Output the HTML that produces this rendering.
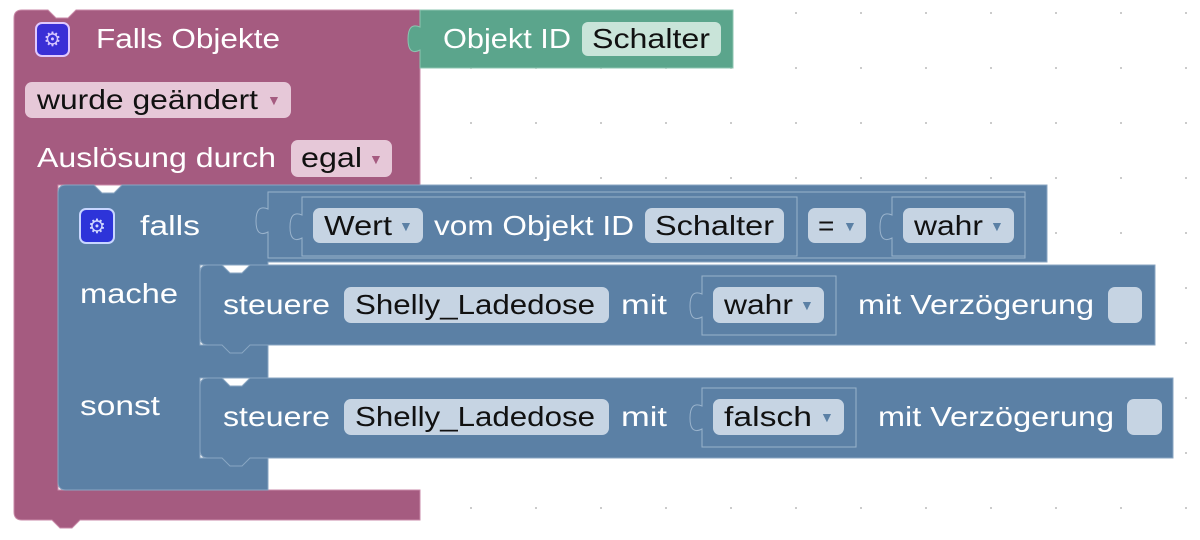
<!DOCTYPE html>
<html><head><meta charset="utf-8"><style>
html,body{margin:0;padding:0;background:#fff;width:1200px;height:540px;overflow:hidden}
svg{display:block}
text{font-family:"Liberation Sans",sans-serif;font-size:28px}
.w{fill:#fff}.k{fill:#111}.t{fill:#5b80a5;font-size:14px}.tp{fill:#a55b80;font-size:14px}
</style></head><body>
<svg width="1200" height="540" viewBox="0 0 1200 540" xmlns="http://www.w3.org/2000/svg">
<defs><pattern id="g" width="65" height="55" patternUnits="userSpaceOnUse" x="15" y="12"><circle cx="1" cy="1" r="1" fill="#bbb"/></pattern></defs>
<rect width="1200" height="540" fill="url(#g)"/>
<!-- pink event block -->
<path d="M22 10 H48 l8 8 h12 l8 -8 H420 V185 H58 V490 H420 V520 H80 l-8 8 h-12 l-8 -8 H22 q-8 0 -8 -8 V18 q0 -8 8 -8Z" fill="#a55b80" stroke="#c98aa8" stroke-width="1"/>
<!-- green block -->
<path d="M420 10 H733 V68 H420 V50 q-12 6 -12 -11 q0 -17 12 -12Z" fill="#5ba58c" stroke="#8cc5b0" stroke-width="1"/>
<rect x="582" y="22" width="139" height="34" rx="6" fill="#c9e4d9"/>
<text x="443" y="48" class="w" textLength="128" lengthAdjust="spacingAndGlyphs">Objekt ID</text><text x="592" y="48" class="k" textLength="118" lengthAdjust="spacingAndGlyphs">Schalter</text>
<!-- pink contents -->
<rect x="36" y="23" width="33" height="33" rx="6" fill="#3a2fd6" stroke="#e0c9ff" stroke-width="2"/>
<text x="52.5" y="46" text-anchor="middle" style="font-size:20px" fill="#d8c8ff">⚙</text>
<text x="96" y="48" class="w" textLength="184" lengthAdjust="spacingAndGlyphs">Falls Objekte</text>
<rect x="25" y="82" width="266" height="36" rx="7" fill="#e6c8d8"/>
<text x="37" y="109" class="k" textLength="221" lengthAdjust="spacingAndGlyphs">wurde geändert</text><text x="267" y="105" class="tp">▼</text>
<text x="37" y="167" class="w" textLength="239" lengthAdjust="spacingAndGlyphs">Auslösung durch</text>
<rect x="291" y="140" width="101" height="37" rx="7" fill="#e6c8d8"/>
<text x="301" y="167" class="k" textLength="61" lengthAdjust="spacingAndGlyphs">egal</text><text x="369" y="164" class="tp">▼</text>
<!-- blue falls block -->
<path d="M66 185 H94 l8 8 h12 l8 -8 H1047 V262 H268 V265 H200 V345 H268 V378 H200 V458 H268 V490 H66 q-8 0 -8 -8 V193 q0 -8 8 -8Z" fill="#5b80a5" stroke="#8aa6c2" stroke-width="1"/>
<rect x="80" y="209" width="34" height="34" rx="6" fill="#2d34d9" stroke="#c8d6ff" stroke-width="2"/>
<text x="97" y="233" text-anchor="middle" style="font-size:20px" fill="#d0d8ff">⚙</text>
<text x="140" y="235" class="w" textLength="60" lengthAdjust="spacingAndGlyphs">falls</text>
<text x="80" y="303" class="w" textLength="98" lengthAdjust="spacingAndGlyphs">mache</text>
<text x="80" y="415" class="w" textLength="80" lengthAdjust="spacingAndGlyphs">sonst</text>
<!-- condition -->
<path d="M268 192 H1025 V258 H268 V232 q-12 6 -12 -11 q0 -17 12 -12Z" fill="#5b80a5" stroke="#9ab3cc" stroke-width="1"/>
<path d="M302 197 H797 V256 H302 V238 q-12 6 -12 -11 q0 -17 12 -12Z" fill="#5b80a5" stroke="#9ab3cc" stroke-width="1"/>
<rect x="313" y="208" width="110" height="35" rx="7" fill="#c6d4e3"/>
<text x="324" y="235" class="k" textLength="68" lengthAdjust="spacingAndGlyphs">Wert</text><text x="399" y="231" class="t">▼</text>
<text x="434" y="235" class="w" textLength="200" lengthAdjust="spacingAndGlyphs">vom Objekt ID</text>
<rect x="645" y="208" width="139" height="35" rx="7" fill="#c6d4e3"/>
<text x="655" y="235" class="k" textLength="119" lengthAdjust="spacingAndGlyphs">Schalter</text>
<rect x="808" y="208" width="58" height="35" rx="7" fill="#c6d4e3"/>
<text x="818" y="235" class="k">=</text><text x="843" y="231" class="t">▼</text>
<path d="M892 197 H1025 V256 H892 V238 q-12 6 -12 -11 q0 -17 12 -12Z" fill="#5b80a5" stroke="#9ab3cc" stroke-width="1"/>
<rect x="903" y="208" width="111" height="35" rx="7" fill="#c6d4e3"/>
<text x="914" y="235" class="k" textLength="69" lengthAdjust="spacingAndGlyphs">wahr</text><text x="990" y="231" class="t">▼</text>
<!-- steuere 1 -->
<path d="M208 265 H222 l8 8 h12 l8 -8 H1155 V345 H250 l-8 8 h-12 l-8 -8 H208 q-8 0 -8 -8 V273 q0 -8 8 -8Z" fill="#5b80a5" stroke="#8aa6c2" stroke-width="1"/>
<text x="223" y="314" class="w" textLength="107" lengthAdjust="spacingAndGlyphs">steuere</text>
<rect x="344" y="287" width="265" height="36" rx="7" fill="#c6d4e3"/>
<text x="355" y="314" class="k" textLength="240" lengthAdjust="spacingAndGlyphs">Shelly_Ladedose</text>
<text x="621" y="314" class="w" textLength="46" lengthAdjust="spacingAndGlyphs">mit</text>
<path d="M702 276 H836 V335 H702 V317 q-12 6 -12 -11 q0 -17 12 -12Z" fill="#5b80a5" stroke="#9ab3cc" stroke-width="1"/>
<rect x="713" y="287" width="111" height="36" rx="7" fill="#c6d4e3"/>
<text x="724" y="314" class="k" textLength="69" lengthAdjust="spacingAndGlyphs">wahr</text><text x="800" y="310" class="t">▼</text>
<text x="858" y="314" class="w" textLength="236" lengthAdjust="spacingAndGlyphs">mit Verzögerung</text>
<rect x="1108" y="287" width="34" height="36" rx="7" fill="#c6d4e3"/>
<!-- steuere 2 -->
<path d="M208 378 H222 l8 8 h12 l8 -8 H1173 V458 H250 l-8 8 h-12 l-8 -8 H208 q-8 0 -8 -8 V386 q0 -8 8 -8Z" fill="#5b80a5" stroke="#8aa6c2" stroke-width="1"/>
<text x="223" y="426" class="w" textLength="107" lengthAdjust="spacingAndGlyphs">steuere</text>
<rect x="344" y="399" width="265" height="36" rx="7" fill="#c6d4e3"/>
<text x="355" y="426" class="k" textLength="240" lengthAdjust="spacingAndGlyphs">Shelly_Ladedose</text>
<text x="621" y="426" class="w" textLength="46" lengthAdjust="spacingAndGlyphs">mit</text>
<path d="M702 388 H856 V447 H702 V429 q-12 6 -12 -11 q0 -17 12 -12Z" fill="#5b80a5" stroke="#9ab3cc" stroke-width="1"/>
<rect x="713" y="399" width="131" height="36" rx="7" fill="#c6d4e3"/>
<text x="724" y="426" class="k" textLength="88" lengthAdjust="spacingAndGlyphs">falsch</text><text x="820" y="422" class="t">▼</text>
<text x="878" y="426" class="w" textLength="236" lengthAdjust="spacingAndGlyphs">mit Verzögerung</text>
<rect x="1127" y="399" width="35" height="36" rx="7" fill="#c6d4e3"/>
</svg>
</body></html>
